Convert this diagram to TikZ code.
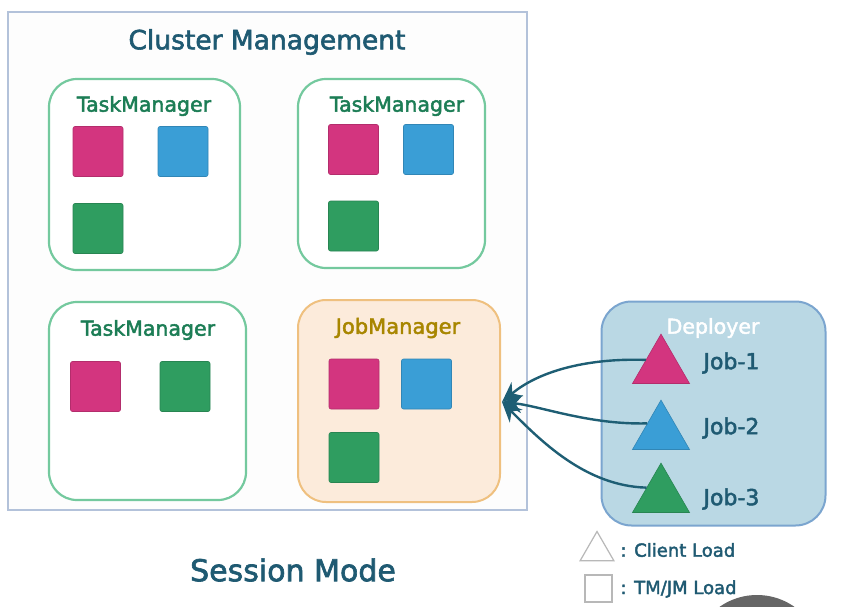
\documentclass[tikz,border=0pt]{standalone}
\usepackage{fontspec}
\setmainfont{DejaVu Sans}[BoldFont=DejaVu Sans, BoldFeatures={FakeBold=2.2}]
\usetikzlibrary{shapes.geometric,arrows.meta}
\definecolor{pinkc}{HTML}{D3357F}
\definecolor{bluec}{HTML}{3A9ED6}
\definecolor{greenc}{HTML}{2F9D60}
\definecolor{tmborder}{HTML}{74C99E}
\definecolor{tmtext}{HTML}{1C7D55}
\definecolor{titlec}{HTML}{1F5A72}
\definecolor{outerc}{HTML}{B3C2DA}
\definecolor{jmfill}{HTML}{FCEBDB}
\definecolor{jmborder}{HTML}{EFC07F}
\definecolor{jmtext}{HTML}{A88600}
\definecolor{depfill}{HTML}{BAD8E4}
\definecolor{depborder}{HTML}{7BA5CF}
\definecolor{arrowc}{HTML}{1E5E74}
\definecolor{legendc}{HTML}{B8B8B8}
\tikzset{
  sq/.style={minimum size=50pt, inner sep=0pt, rounded corners=2pt, draw=#1!85!black, line width=0.6pt, fill=#1},
  tmbox/.style={draw=tmborder, line width=2.2pt, fill=white, rounded corners=28pt, inner sep=0pt},
  tmlabel/.style={text=tmtext, font=\fontsize{20.5}{24}\selectfont\bfseries},
  tri/.style={regular polygon, regular polygon sides=3, minimum size=65.8pt, inner sep=0pt, fill=#1, draw=#1!85!black, line width=0.6pt},
  joblabel/.style={text=titlec, font=\fontsize{22}{26}\selectfont\bfseries, anchor=west},
  conn/.style={draw=arrowc, line width=2.4pt, -{Stealth[length=20pt,width=18pt]}},
  legend/.style={text=titlec, font=\fontsize{18}{22}\selectfont\bfseries, anchor=west}
}
\begin{document}
\begin{tikzpicture}[x=1pt,y=-1pt]
\clip (0,0) rectangle (841,606);
\fill[white] (0,0) rectangle (841,606);
% outer cluster box
\node[draw=outerc, line width=1.8pt, fill=white!98.5!gray, minimum width=519pt, minimum height=498pt, inner sep=0pt] (cluster) at (267.5,261) {};
\node[text=titlec, font=\fontsize{26.5}{30}\selectfont\bfseries] (ctitle) at (267,42) {Cluster Management};
% TaskManager 1
\node[tmbox, minimum width=191pt, minimum height=191pt] (tm1) at (144.5,174.5) {};
\node[tmlabel] (tm1l) at (144,106) {TaskManager};
\node[sq=pinkc] (tm1a) at (98,151.5) {};
\node[sq=bluec] (tm1b) at (183,151.5) {};
\node[sq=greenc] (tm1c) at (98,228.5) {};
% TaskManager 2
\node[tmbox, minimum width=187pt, minimum height=189pt] (tm2) at (391.5,173.5) {};
\node[tmlabel] (tm2l) at (397,106) {TaskManager};
\node[sq=pinkc] (tm2a) at (353.5,149.5) {};
\node[sq=bluec] (tm2b) at (428.5,149.5) {};
\node[sq=greenc] (tm2c) at (353.5,226) {};
% TaskManager 3
\node[tmbox, minimum width=197pt, minimum height=198pt] (tm3) at (147.5,401) {};
\node[tmlabel] (tm3l) at (148,330) {TaskManager};
\node[sq=pinkc] (tm3a) at (95.5,386.5) {};
\node[sq=greenc] (tm3b) at (185,386.5) {};
% JobManager
\node[draw=jmborder, line width=2pt, fill=jmfill, rounded corners=28pt, minimum width=202pt, minimum height=202pt, inner sep=0pt] (jm) at (399,401) {};
\node[text=jmtext, font=\fontsize{21}{25}\selectfont\bfseries] (jml) at (398,328) {JobManager};
\node[sq=pinkc] (jma) at (354,384) {};
\node[sq=bluec] (jmb) at (426.5,384) {};
\node[sq=greenc] (jmc) at (354,457.5) {};
% Deployer
\node[draw=depborder, line width=2pt, fill=depfill, rounded corners=30pt, minimum width=224pt, minimum height=224pt, inner sep=0pt] (dep) at (713.5,413.5) {};
\node[text=white, font=\fontsize{20.5}{24}\selectfont\bfseries] (depl) at (713,328) {Deployer};
\node[tri=pinkc] (t1) at (661,367) {};
\node[tri=bluec] (t2) at (661,433) {};
\node[tri=greenc] (t3) at (661,496) {};
\node[joblabel] (j1) at (700,363) {Job-1};
\node[joblabel] (j2) at (700,428) {Job-2};
\node[joblabel] (j3) at (700,499) {Job-3};
% connectors
\coordinate (tip) at (502,402);
\draw[conn] (t1.155) .. controls (590,358) and (540,370) .. (tip);
\draw[conn] (t2.145) .. controls (590,425) and (540,406) .. (tip);
\draw[conn] (t3.150) .. controls (585,486) and (540,440) .. (tip);
% legend
\node[regular polygon, regular polygon sides=3, minimum size=39pt, inner sep=0pt, draw=legendc, line width=1.2pt, fill=white] (lt) at (597,551) {};
\node[legend] (ltl) at (617,550) {: Client Load};
\node[draw=legendc, line width=1.2pt, fill=white, minimum size=27pt, inner sep=0pt] (ls) at (598.5,588.5) {};
\node[legend] (lsl) at (617,589) {: TM/JM Load};
% session mode
\node[text=titlec, font=\fontsize{30}{34}\selectfont\bfseries] (smode) at (293,570) {Session Mode};
% gray overlay circle
\fill[black!60] (757,660) circle (65);
\end{tikzpicture}
\end{document}
